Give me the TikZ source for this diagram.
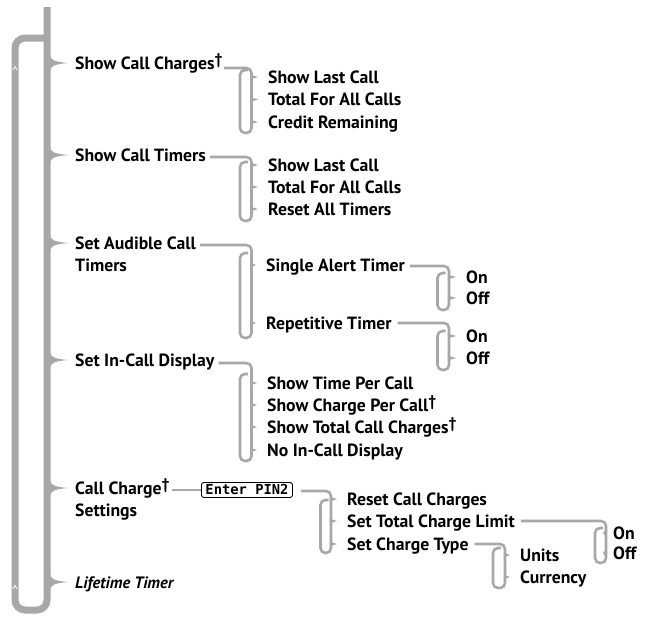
\documentclass[tikz,border=0pt]{standalone}
\usepackage{fontspec}
\setmainfont{PT Sans}
\newfontfamily\lcdfont{DejaVu Sans Mono}
\usetikzlibrary{calc}
\definecolor{ln}{RGB}{168,168,168}
\newcommand\dg{\raisebox{5pt}{\fontsize{15.5}{15}\selectfont\bfseries\dag}}
\begin{document}
\begin{tikzpicture}[x=1pt,y=-1pt,
  mainline/.style={draw=ln, line width=7pt, rounded corners=10pt},
  subline/.style={draw=ln, line width=2.6pt, rounded corners=5pt},
  lab/.style={anchor=west, inner sep=0pt, text height=12.3pt, text depth=0pt,
    font=\fontsize{17.7}{20}\selectfont\bfseries},
  itlab/.style={lab, font=\fontsize{16.5}{20}\selectfont\bfseries\itshape},
  pinbox/.style={draw=black, line width=0.9pt, rounded corners=2.5pt, inner xsep=4pt,
    inner ysep=3pt, text height=9pt, text depth=0pt,
    font=\lcdfont\bfseries\fontsize{13.8}{14}\selectfont},
]
\useasboundingbox (0,0) rectangle (648,619);

% ---------- main spine and loop ----------
\draw[mainline] (47,7) -- (47,610) -- (15,610) -- (15,38) -- (47,38);
\draw[white, line width=0.8pt] (13,70) -- (15,66.5) -- (17,70);
\draw[white, line width=0.8pt] (13,589) -- (15,585.5) -- (17,589);

% ---------- top level nodes ----------
\node[lab] (n1) at (75,63) {Show Call Charges\dg};
\node[lab] (n2) at (75,155) {Show Call Timers};
\node[lab] (n3) at (75,243) {Set Audible Call};
\node[lab] (n3b) at (75,265) {Timers};
\node[lab] (n4) at (75,360) {Set In-Call Display};
\node[lab] (n5) at (75,488) {Call Charge\dg};
\node[lab] (n5b) at (75,510) {Settings};
\node[itlab] (n6) at (75,582) {Lifetime Timer};

\foreach \nd in {n1,n2,n3,n4,n5,n6}{
  \fill[ln] let \p1=(\nd.west) in
    (50,\y1+9pt) .. controls (50,\y1+3pt) and (54,\y1+1.3pt) .. ([xshift=-7pt]\nd.west)
    .. controls (54,\y1-1.3pt) and (50,\y1-3pt) .. (50,\y1-9pt) -- cycle;
}

% ---------- macros ----------
% bracket: #1 start coordinate, #2 xl, #3 xr, #4 y top of left side, #5 y bottom
\newcommand\bracket[5]{%
  \coordinate (bs) at #1;
  \coordinate (bx) at (#3,0);
  \draw[subline] (bs) -- (bx |- bs) -- (#3,#5) -- (#2,#5) -- (#2,#4) -- (#2+8,#4);
}
% tick from bracket side #1 (x) to child node #2
\newcommand\tick[2]{%
  \fill[ln] let \p1=(#2.west) in (#1-1.2,\y1+2.4pt) -- ([xshift=-10pt]#2.west)
    -- (#1-1.2,\y1-2.4pt) -- cycle;
}

% ---------- Show Call Charges ----------
\node[lab] (a1) at (268,77) {Show Last Call};
\node[lab] (a2) at (268,99.5) {Total For All Calls};
\node[lab] (a3) at (268,122) {Credit Remaining};
\bracket{([shift={(1,5)}]n1.east)}{240}{251.5}{70}{133}
\foreach \c in {a1,a2,a3}{\tick{251.5}{\c}}

% ---------- Show Call Timers ----------
\node[lab] (b1) at (268,165) {Show Last Call};
\node[lab] (b2) at (268,187) {Total For All Calls};
\node[lab] (b3) at (268,209) {Reset All Timers};
\bracket{([shift={(4,2)}]n2.east)}{240}{251.5}{162}{221}
\foreach \c in {b1,b2,b3}{\tick{251.5}{\c}}

% ---------- Set Audible Call Timers ----------
\node[lab] (c1) at (266,265) {Single Alert Timer};
\node[lab] (c2) at (266,323) {Repetitive Timer};
\bracket{([shift={(4,2)}]n3.east)}{240}{251.5}{253}{338}
\foreach \c in {c1,c2}{\tick{251.5}{\c}}

\node[lab] (d1) at (466,277) {On};
\node[lab] (d2) at (466,298) {Off};
\bracket{([shift={(5,1)}]c1.east)}{437.5}{449}{273}{310}
\foreach \c in {d1,d2}{\tick{449}{\c}}

\node[lab] (e1) at (466,336) {On};
\node[lab] (e2) at (466,358) {Off};
\bracket{([shift={(6,0)}]c2.east)}{437.5}{449}{331}{370}
\foreach \c in {e1,e2}{\tick{449}{\c}}

% ---------- Set In-Call Display ----------
\node[lab] (f1) at (267,383) {Show Time Per Call};
\node[lab] (f2) at (267,405) {Show Charge Per Call\dg};
\node[lab] (f3) at (267,427) {Show Total Call Charges\dg};
\node[lab] (f4) at (267,450) {No In-Call Display};
\bracket{([shift={(4,3)}]n4.east)}{240}{251.5}{374}{461}
\foreach \c in {f1,f2,f3,f4}{\tick{251.5}{\c}}

% ---------- Call Charge Settings ----------
\node[pinbox] (pin) at (247,490) {Enter PIN2};
\draw[subline] ([shift={(2,2)}]n5.east) -- (pin.west);

\node[lab] (g1) at (347,499) {Reset Call Charges};
\node[lab] (g2) at (347,521) {Set Total Charge Limit};
\node[lab] (g3) at (347,544) {Set Charge Type};
\bracket{([shift={(8,1)}]pin.east)}{320.5}{331}{500}{553}
\foreach \c in {g1,g2,g3}{\tick{331}{\c}}

\node[lab] (h1) at (613,533) {On};
\node[lab] (h2) at (613,553) {Off};
\bracket{([shift={(6,0)}]g2.east)}{595}{606}{528}{563}
\foreach \c in {h1,h2}{\tick{606}{\c}}

\node[lab] (k1) at (520,555) {Units};
\node[lab] (k2) at (520,577) {Currency};
\bracket{([shift={(6,0)}]g3.east)}{493}{505}{548}{588}
\foreach \c in {k1,k2}{\tick{505}{\c}}
\end{tikzpicture}
\end{document}
